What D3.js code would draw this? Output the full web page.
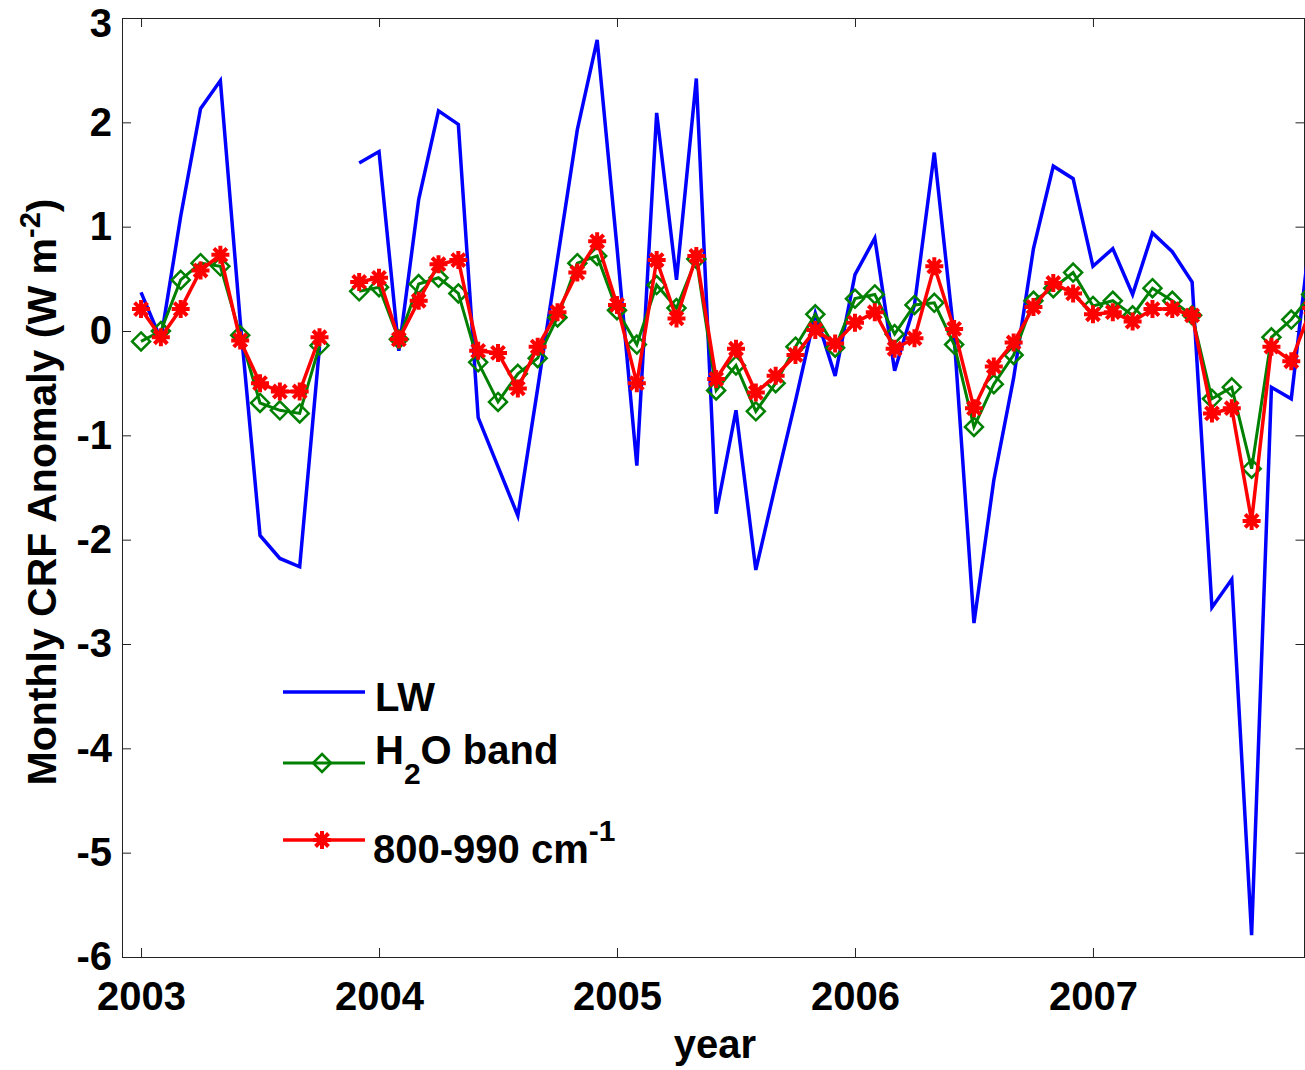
<!DOCTYPE html>
<html>
<head>
<meta charset="utf-8">
<script src="https://cdn.jsdelivr.net/npm/d3@7"></script>
<style>
  html, body { margin: 0; padding: 0; background: #fff; }
  svg { display: block; }
  text { font-family: "Liberation Sans", Arial, Helvetica, sans-serif; font-weight: bold; fill: #000; }
</style>
</head>
<body>
<svg id="chart" width="1305" height="1070"></svg>
<script>
// Monthly cloud radiative forcing anomalies, Jan 2003 - Dec 2007 (null = no data)
const years = [2003, 2004, 2005, 2006, 2007];
const yTicks = [3, 2, 1, 0, -1, -2, -3, -4, -5, -6];

const lwValues = [
  0.37, -0.08, 1.1, 2.13, 2.40, 0.1, -1.96, -2.18, -2.26, -0.15, null, 1.61,
  1.72, -0.19, 1.26, 2.11, 1.98, -0.83, -1.3, -1.77, -0.55, 0.69, 1.93, 2.79,
  0.8, -1.29, 2.09, 0.49, 2.42, -1.75, -0.76, -2.29, -1.47, -0.67, 0.17, -0.43,
  0.54, 0.89, -0.38, 0.25, 1.71, -0.05, -2.8, -1.43, -0.45, 0.79, 1.58, 1.46,
  0.62, 0.79, 0.35, 0.94, 0.76, 0.47, -2.65, -2.38, -5.79, -0.54, -0.65, 1.0
];
const h2oValues = [
  -0.1, 0.0, 0.49, 0.65, 0.62, -0.04, -0.69, -0.76, -0.79, -0.14, null, 0.38,
  0.42, -0.08, 0.45, 0.51, 0.36, -0.3, -0.68, -0.41, -0.26, 0.13, 0.65, 0.72,
  0.2, -0.13, 0.44, 0.22, 0.69, -0.57, -0.33, -0.77, -0.5, -0.15, 0.16, -0.16,
  0.31, 0.35, -0.03, 0.25, 0.27, -0.13, -0.92, -0.51, -0.23, 0.29, 0.41, 0.56,
  0.24, 0.29, 0.15, 0.41, 0.29, 0.15, -0.65, -0.54, -1.32, -0.06, 0.11, 0.35
];
const windowValues = [
  0.21, -0.06, 0.21, 0.58, 0.73, -0.09, -0.5, -0.58, -0.58, -0.06, null, 0.47,
  0.51, -0.08, 0.29, 0.64, 0.68, -0.19, -0.21, -0.55, -0.15, 0.18, 0.56, 0.86,
  0.25, -0.5, 0.68, 0.12, 0.72, -0.46, -0.17, -0.59, -0.43, -0.23, 0.01, -0.12,
  0.08, 0.18, -0.17, -0.07, 0.62, 0.02, -0.74, -0.34, -0.11, 0.23, 0.46, 0.36,
  0.16, 0.18, 0.09, 0.21, 0.21, 0.15, -0.79, -0.74, -1.82, -0.15, -0.29, 0.22
];

// decimal-year time coordinate of each month
const monthTimes = d3.range(lwValues.length).map(i => years[0] + i / 12);

const svg = d3.select("#chart");
const plot = { left: 122, right: 1305, top: 18, bottom: 957 };

const x = d3.scaleLinear().domain([2002.92, 2007.891]).range([plot.left, plot.right]);
const y = d3.scaleLinear().domain([-6, 3]).range([plot.bottom, plot.top]);

svg.append("defs").append("clipPath").attr("id", "plotClip")
  .append("rect")
  .attr("x", plot.left).attr("y", plot.top)
  .attr("width", plot.right - plot.left).attr("height", plot.bottom - plot.top);

// ---- axes (ticks pointing inward on all four sides) ----
const tickLen = 9;
const axisColor = "#222";
const plainNumber = d => String(d);   // ASCII hyphen for negatives

const gBottom = svg.append("g").attr("transform", `translate(0,${plot.bottom})`)
  .call(d3.axisBottom(x).tickValues(years).tickFormat(plainNumber)
    .tickSizeInner(-tickLen).tickSizeOuter(0).tickPadding(25));
const gTop = svg.append("g").attr("transform", `translate(0,${plot.top})`)
  .call(d3.axisTop(x).tickValues(years).tickFormat("")
    .tickSizeInner(-tickLen).tickSizeOuter(0));
const gLeft = svg.append("g").attr("transform", `translate(${plot.left},0)`)
  .call(d3.axisLeft(y).tickValues(yTicks).tickFormat(plainNumber)
    .tickSizeInner(-tickLen).tickSizeOuter(0).tickPadding(10));
const gRight = svg.append("g").attr("transform", `translate(${plot.right - 0.5},0)`)
  .call(d3.axisRight(y).tickValues(yTicks).tickFormat("")
    .tickSizeInner(-tickLen).tickSizeOuter(0));

[gBottom, gTop, gLeft, gRight].forEach(g => {
  g.select(".domain").remove();
  g.selectAll(".tick line").attr("stroke", axisColor).attr("stroke-width", 1);
  g.selectAll(".tick text")
    .style("font-family", '"Liberation Sans", Arial, sans-serif')
    .style("font-weight", "bold").style("font-size", "40px").attr("fill", "#000");
});
// keep the top label's glyph box inside the page
gLeft.selectAll(".tick text").filter(d => d === 3).attr("dy", "0.47em");

svg.append("rect")
  .attr("x", plot.left + 0.5).attr("y", plot.top + 0.5)
  .attr("width", plot.right - plot.left - 1).attr("height", plot.bottom - plot.top)
  .attr("fill", "none").attr("stroke", axisColor).attr("stroke-width", 1);

// ---- axis titles ----
svg.append("text")
  .attr("x", 715).attr("y", 1058)
  .attr("text-anchor", "middle").style("font-size", "40px")
  .text("year");

const yTitle = svg.append("text")
  .attr("transform", "translate(56,492) rotate(-90)")
  .attr("text-anchor", "middle").style("font-size", "41px");
yTitle.append("tspan").text("Monthly CRF Anomaly (W m");
yTitle.append("tspan").attr("dy", -16).style("font-size", "29px").text("-2");
yTitle.append("tspan").attr("dy", 16).text(")");

// ---- series ----
const series = [
  { name: "LW", values: lwValues, color: "#0000ff", width: 3.5, marker: null },
  { name: "H2O", values: h2oValues, color: "#008000", width: 3, marker: "diamond" },
  { name: "window", values: windowValues, color: "#ff0000", width: 3.5, marker: "star" }
];

const line = d3.line()
  .defined(d => d.v !== null)
  .x(d => x(d.t)).y(d => y(d.v));

const plotArea = svg.append("g").attr("clip-path", "url(#plotClip)");

function drawMarker(g, kind, color) {
  if (kind === "diamond") {
    const r = 9;
    g.append("path")
      .attr("d", `M0,${-r}L${r},0L0,${r}L${-r},0Z`)
      .attr("fill", "none").attr("stroke", color).attr("stroke-width", 2.5);
  } else if (kind === "star") {
    const r = 9, s = r * 0.72;
    g.append("path")
      .attr("d", `M${-r},0L${r},0M0,${-r}L0,${r}M${-s},${-s}L${s},${s}M${-s},${s}L${s},${-s}`)
      .attr("fill", "none").attr("stroke", color).attr("stroke-width", 4);
  }
}

series.forEach(s => {
  const pts = s.values.map((v, i) => ({ t: monthTimes[i], v }));
  plotArea.append("path")
    .datum(pts)
    .attr("d", line)
    .attr("fill", "none")
    .attr("stroke", s.color)
    .attr("stroke-width", s.width)
    .attr("stroke-linejoin", "miter");
  if (s.marker) {
    plotArea.selectAll(null)
      .data(pts.filter(d => d.v !== null))
      .join("g")
      .attr("transform", d => `translate(${x(d.t)},${y(d.v)})`)
      .each(function () { drawMarker(d3.select(this), s.marker, s.color); });
  }
});

// ---- legend ----
const legend = svg.append("g");
const legendRows = [
  { color: "#0000ff", width: 3.5, marker: null, lineY: 692 },
  { color: "#008000", width: 3, marker: "diamond", lineY: 763 },
  { color: "#ff0000", width: 3.5, marker: "star", lineY: 840 }
];
legendRows.forEach(r => {
  legend.append("line")
    .attr("x1", 283).attr("x2", 365).attr("y1", r.lineY).attr("y2", r.lineY)
    .attr("stroke", r.color).attr("stroke-width", r.width);
  if (r.marker) {
    const g = legend.append("g").attr("transform", `translate(322,${r.lineY})`);
    drawMarker(g, r.marker, r.color);
  }
});

legend.append("text").attr("x", 375).attr("y", 711).style("font-size", "40px").text("LW");

const h2o = legend.append("text").attr("x", 375).attr("y", 764).style("font-size", "40px");
h2o.append("tspan").text("H");
h2o.append("tspan").attr("dy", 20).style("font-size", "30px").text("2");
h2o.append("tspan").attr("dy", -20).text("O band");

const win = legend.append("text").attr("x", 373).attr("y", 863).style("font-size", "40px");
win.append("tspan").text("800-990 cm");
win.append("tspan").attr("dy", -22).style("font-size", "30px").text("-1");
</script>
</body>
</html>
